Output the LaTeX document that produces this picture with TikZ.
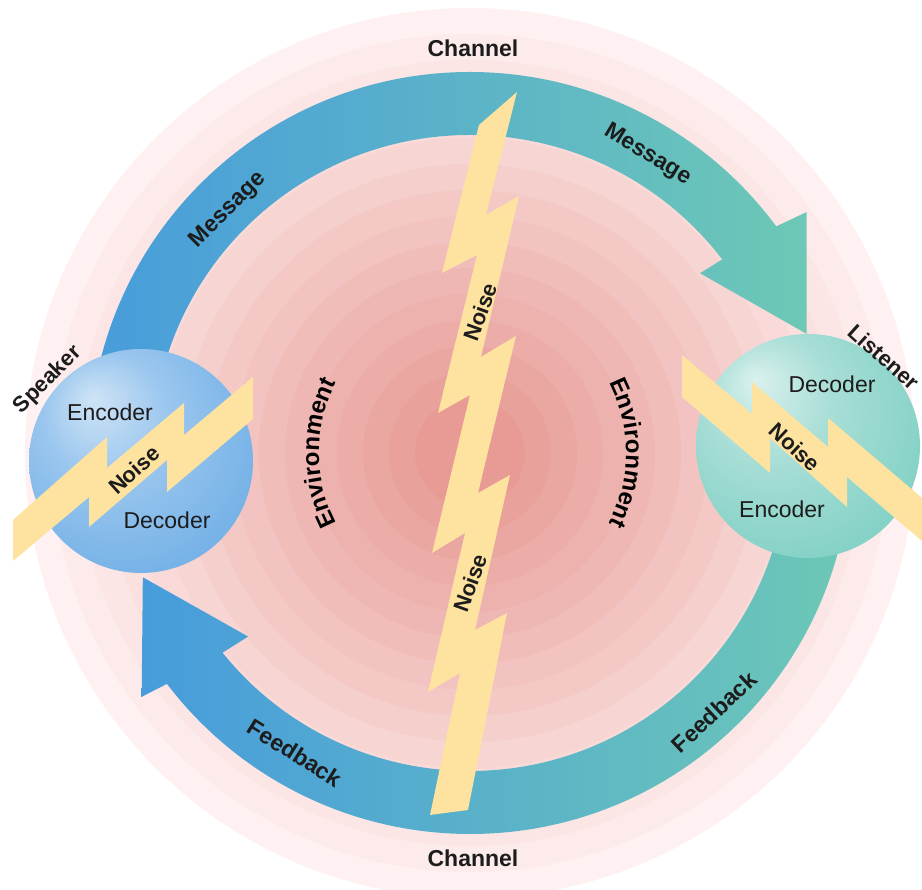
\documentclass[tikz,border=0pt]{standalone}
\usepackage{fontspec}
\setmainfont{Liberation Sans}
\usetikzlibrary{decorations.text}
\definecolor{bgOut}{HTML}{FFF1F1}
\definecolor{bgIn}{HTML}{E79B94}
\definecolor{bolt}{HTML}{FDE2A0}
\definecolor{txt}{HTML}{1C1C1C}
\definecolor{bandL}{HTML}{479CDC}
\definecolor{bandM}{HTML}{5FB6D3}
\definecolor{bandR}{HTML}{6DC8B6}
\definecolor{spkA}{HTML}{CFE4F6}
\definecolor{spkB}{HTML}{9AC6EE}
\definecolor{spkC}{HTML}{4F9DE0}
\definecolor{lisA}{HTML}{DAF1EE}
\definecolor{lisB}{HTML}{A8DED6}
\definecolor{lisC}{HTML}{60C5B7}
\pgfdeclareradialshading{spkshade}{\pgfpoint{-11bp}{14bp}}{color(0bp)=(spkA); color(14bp)=(spkB); color(50bp)=(spkC)}
\pgfdeclareradialshading{lisshade}{\pgfpoint{-12bp}{15bp}}{color(0bp)=(lisA); color(14bp)=(lisB); color(50bp)=(lisC)}
\tikzset{
  lbl/.style={font=\fontsize{23}{23}\selectfont\bfseries, text=txt, inner sep=0pt},
  sml/.style={font=\fontsize{22}{22}\selectfont\bfseries, text=txt, inner sep=0pt},
  cod/.style={font=\fontsize{23}{23}\selectfont, text=txt, inner sep=0pt},
  boltfill/.style={fill=bolt, draw=none},
  band/.style={left color=bandL, middle color=bandM, right color=bandR, draw=none}
}
\begin{document}
\begin{tikzpicture}[x=1pt,y=1pt]
\useasboundingbox (0,0) rectangle (922,890);
\fill[white] (0,0) rectangle (922,890);
\coordinate (C) at (470,437);
% background rings
\foreach \i in {0,...,15}{
  \pgfmathsetmacro\rr{445-26*\i}
  \pgfmathtruncatemacro\pp{round(100*\i/15)}
  \fill[bgIn!\pp!bgOut] (C) circle[radius=\rr];
}
% message arrow
\shade[band] ([shift={(C)}]180:381) arc[start angle=180,end angle=36.5,radius=381]
  -- ([shift={(C)}]35.6:414) -- ([shift={(C)}]19.5:357) -- ([shift={(C)}]38:292)
  -- ([shift={(C)}]37.5:318) arc[start angle=37.5,end angle=180,radius=318] -- cycle;
% feedback arrow
\shade[band] ([shift={(C)}]0:381) arc[start angle=0,end angle=-142.7,radius=381]
  -- ([shift={(C)}]-143.4:409) -- ([shift={(C)}]-159.2:350) -- ([shift={(C)}]-140.4:288)
  -- ([shift={(C)}]-141.1:318) arc[start angle=-141.1,end angle=0,radius=318] -- cycle;
% central bolt
\fill[boltfill] (517,798) -- (486,675) -- (519,694) -- (481,533) -- (516,554) -- (478,397)
  -- (510,415) -- (475,260) -- (507,277) -- (468,80) -- (430,75) -- (460,217) -- (428,198)
  -- (465,357) -- (432,337) -- (470,495) -- (438,477) -- (477,635) -- (442,617) -- (479,765) -- cycle;
% speaker and listener
\shade[shading=spkshade] (141,429) circle[radius=112];
\shade[shading=lisshade] (808,444) circle[radius=112];
% small bolts
\fill[boltfill] (13,370) -- (107,453) -- (107,422) -- (184,487) -- (184,455) -- (253,513)
  -- (253,471) -- (167,398) -- (167,430) -- (89,363) -- (89,393) -- (13,329) -- cycle;
\fill[boltfill] (682,535) -- (752,476) -- (752,508) -- (828,443) -- (828,472) -- (922,392)
  -- (922,349) -- (847,413) -- (847,383) -- (770,452) -- (770,417) -- (682,493) -- cycle;
% texts
\node[lbl] (chT) at (473,842) {Channel};
\node[lbl] (chB) at (473,32) {Channel};
\node[lbl, rotate=45] (msgL) at (228,680) {Message};
\node[lbl, rotate=-31] (msgR) at (648,735) {Message};
\node[lbl, rotate=-32] (fbL) at (295,137) {Feedback};
\node[lbl, rotate=43] (fbR) at (714,178) {Feedback};
\node[sml, rotate=45] (spk) at (48,510) {Speaker};
\node[sml, rotate=-42] (lis) at (884,533) {Listener};
\node[cod] (encS) at (110,478) {Encoder};
\node[cod] (decS) at (167,370) {Decoder};
\node[cod] (decL) at (832,506) {Decoder};
\node[cod] (encL) at (782,381) {Encoder};
\node[sml, rotate=42] (noS) at (134,420) {Noise};
\node[sml, rotate=-43] (noL) at (795,443) {Noise};
\node[sml, rotate=70] (noU) at (480,578) {Noise};
\node[sml, rotate=70] (noD) at (470,307) {Noise};
\path[decorate, decoration={text along path, text align=center,
  text={|\fontsize{24}{24}\selectfont\bfseries|Environment}}]
  ([shift={(C)}]215:151) arc[start angle=215,end angle=145,radius=151];
\path[decorate, decoration={text along path, text align=center,
  text={|\fontsize{24}{24}\selectfont\bfseries|Environment}}]
  ([shift={(C)}]35:156) arc[start angle=35,end angle=-35,radius=156];
\end{tikzpicture}
\end{document}
